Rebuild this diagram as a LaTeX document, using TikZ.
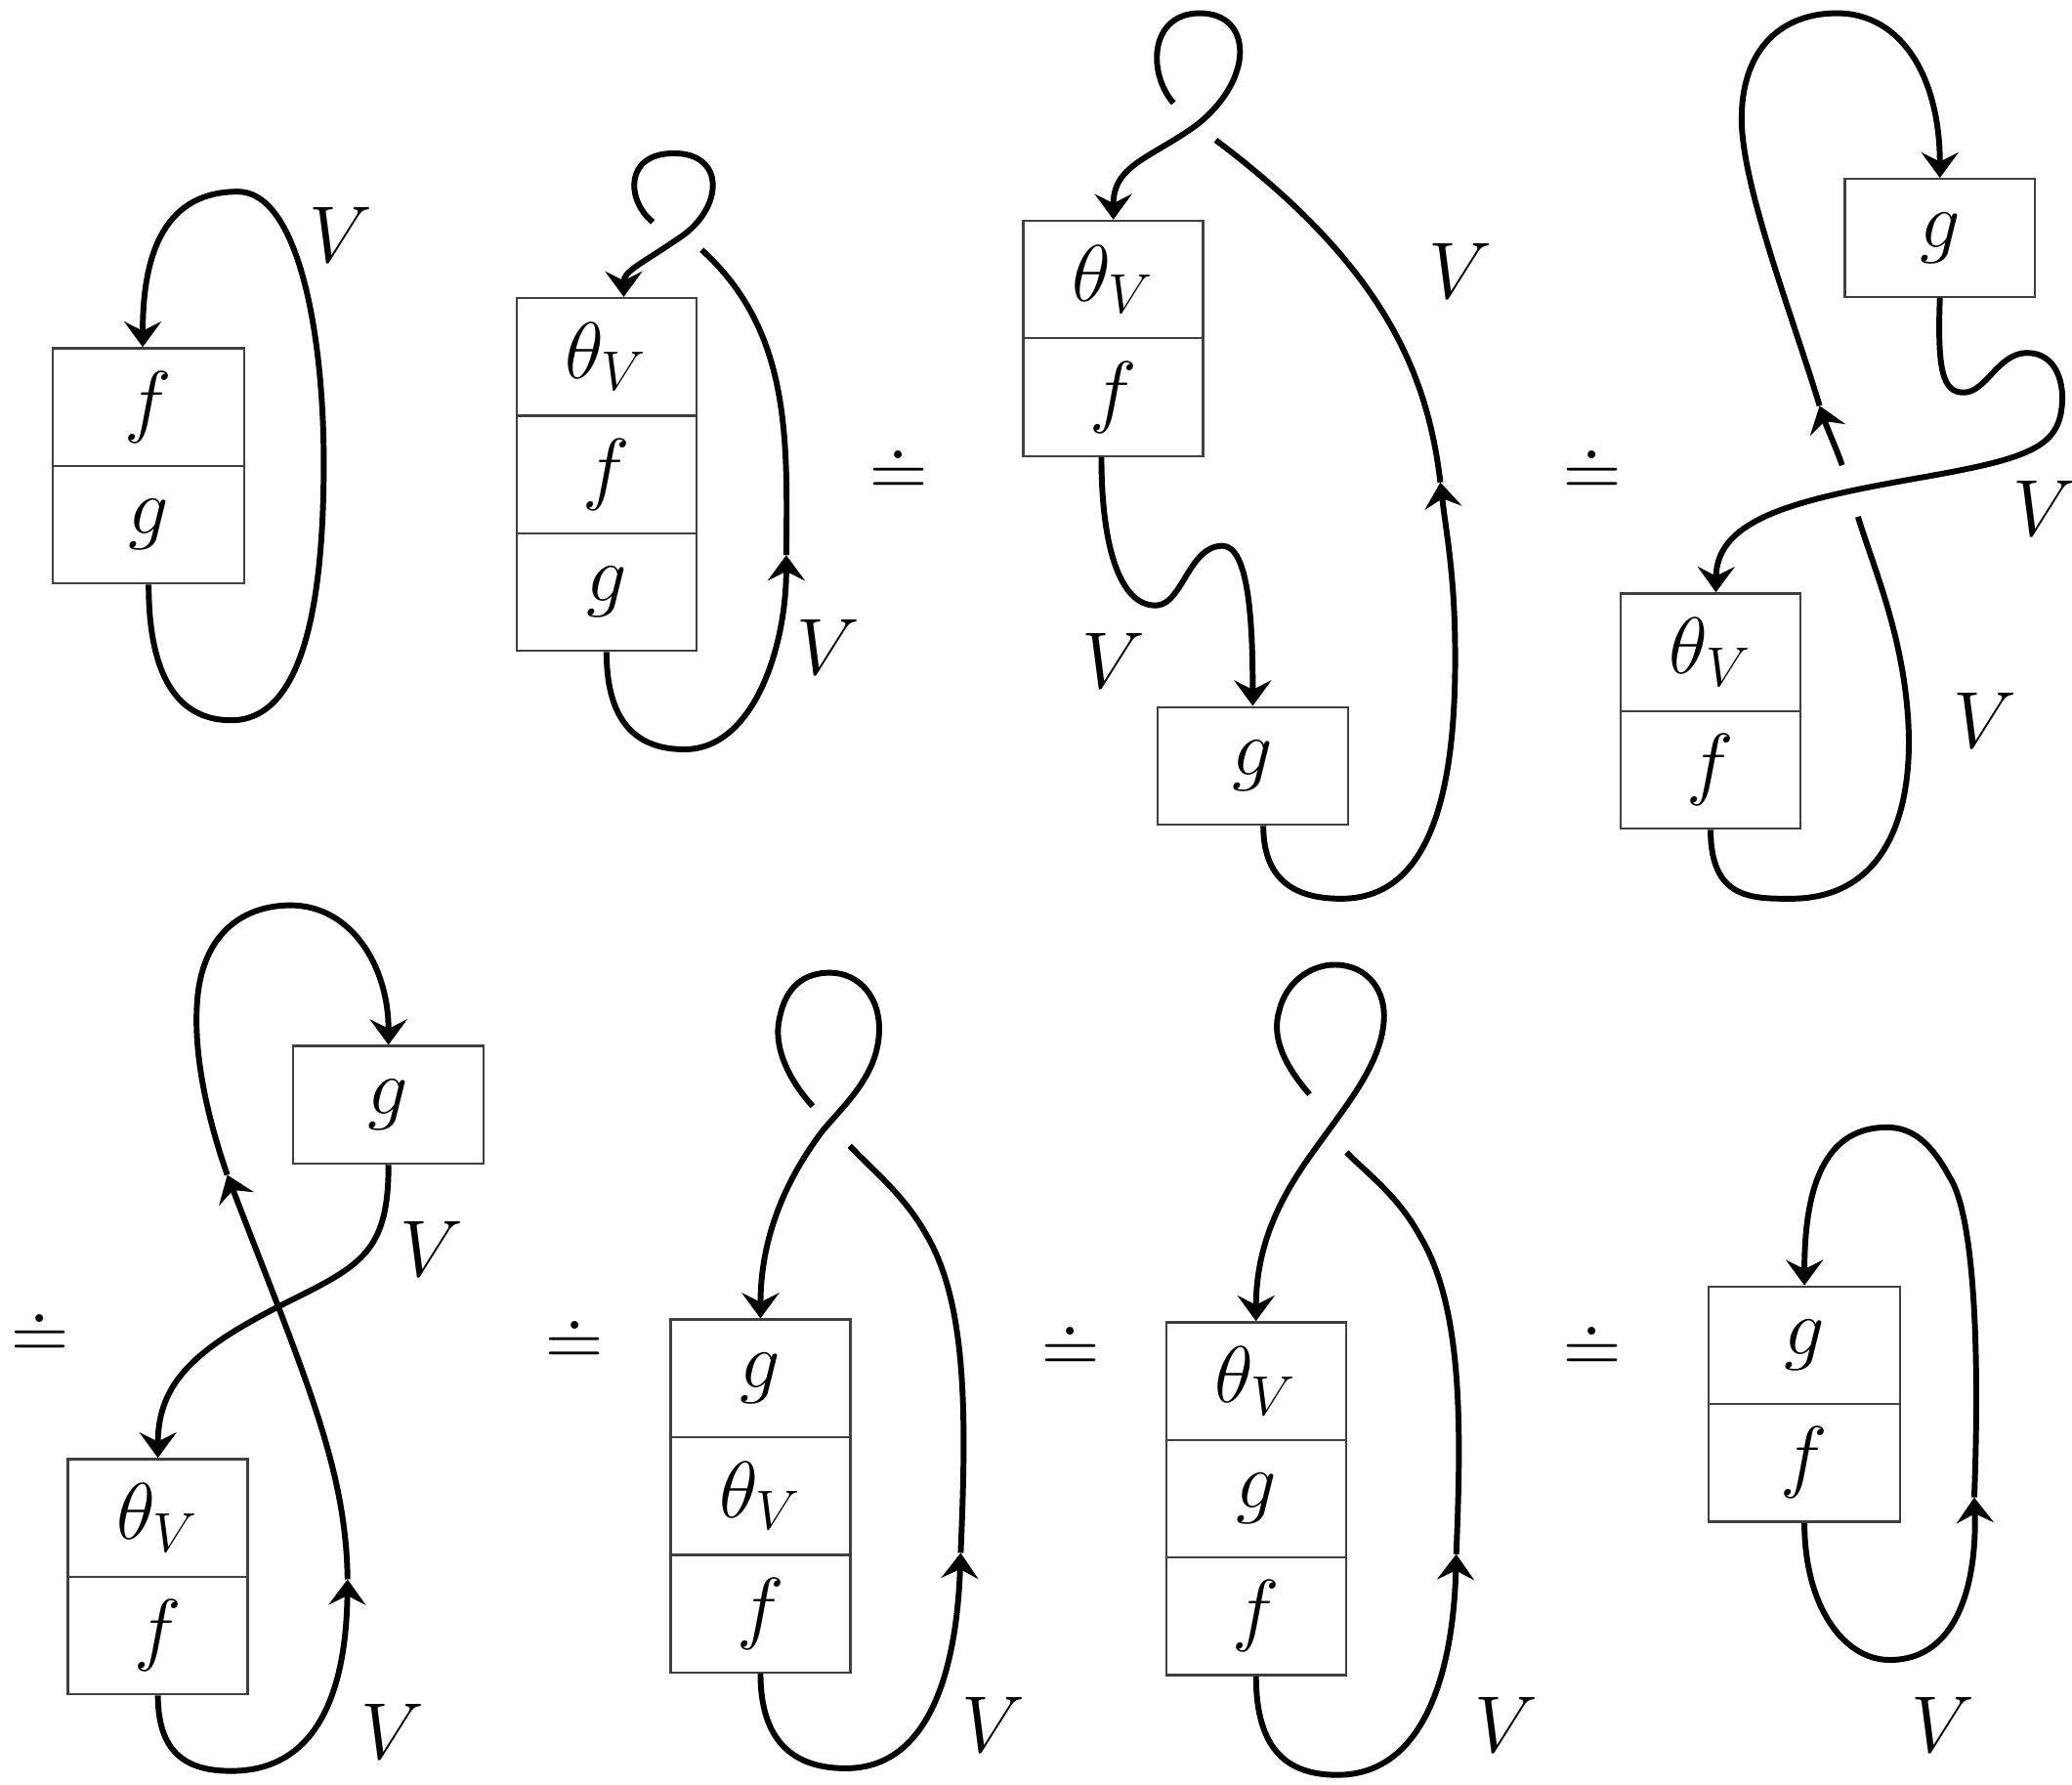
\documentclass[tikz,border=0pt]{standalone}
\usetikzlibrary{arrows.meta}

\begin{document}
\begin{tikzpicture}
    % Define block styles
    \tikzstyle{cell} = [rectangle, draw=black!75, line width=0.5pt,
        minimum width=1.36cm, minimum height=0.89cm, inner sep=0pt, font=\LARGE]
    \tikzstyle{lbl} = [font=\LARGE]
    \tikzstyle{strand} = [draw, line width=1.25pt]
    \tikzstyle{line} = [strand, -{Stealth[length=5.5pt, width=8pt, inset=2pt]}] % strand with direction

    \useasboundingbox (0,0) rectangle (15.68,-13.50);

    % Place nodes
    \node [cell, minimum width=1.45cm] (f1) at (1.125,-3.08) {$f$};
    \node [cell, minimum width=1.45cm, below of=f1, node distance=0.89cm] (g1) {$g$};
    \node [lbl] (v1) at (2.58,-1.78) {$V$};

    \node [cell] (t2) at (4.59,-2.70) {$\theta_V$};
    \node [cell, below of=t2, node distance=0.89cm] (f2) {$f$};
    \node [cell, below of=f2, node distance=0.89cm] (g2) {$g$};
    \node [lbl] (v2) at (6.27,-4.90) {$V$};
    \node [lbl] (eq1) at (6.80,-3.57) {$\doteq$};

    \node [cell] (t3) at (8.425,-2.115) {$\theta_V$};
    \node [cell, below of=t3, node distance=0.89cm] (f3) {$f$};
    \node [cell, minimum width=1.44cm] (g3) at (9.48,-5.795) {$g$};
    \node [lbl] (v3a) at (11.05,-2.05) {$V$};
    \node [lbl] (v3b) at (8.43,-5.00) {$V$};
    \node [lbl] (eq2) at (12.05,-3.57) {$\doteq$};

    \node [cell, minimum width=1.44cm] (g4) at (14.68,-1.80) {$g$};
    \node [cell] (t4) at (12.945,-4.935) {$\theta_V$};
    \node [cell, below of=t4, node distance=0.89cm] (f4) {$f$};
    \node [lbl] (v4a) at (15.47,-3.85) {$V$};
    \node [lbl] (v4b) at (15.02,-5.45) {$V$};

    \node [lbl] (eq3) at (0.30,-10.10) {$\doteq$};
    \node [cell, minimum width=1.44cm] (g5) at (2.94,-8.36) {$g$};
    \node [cell] (t5) at (1.195,-11.485) {$\theta_V$};
    \node [cell, below of=t5, node distance=0.89cm] (f5) {$f$};
    \node [lbl] (v5a) at (3.27,-9.45) {$V$};
    \node [lbl] (v5b) at (2.97,-13.10) {$V$};

    \node [lbl] (eq4) at (4.35,-10.15) {$\doteq$};
    \node [cell] (g6) at (5.755,-10.43) {$g$};
    \node [cell, below of=g6, node distance=0.89cm] (t6) {$\theta_V$};
    \node [cell, below of=t6, node distance=0.89cm] (f6) {$f$};
    \node [lbl] (v6) at (7.52,-13.05) {$V$};

    \node [lbl] (eq5) at (8.10,-10.20) {$\doteq$};
    \node [cell] (t7) at (9.505,-10.45) {$\theta_V$};
    \node [cell, below of=t7, node distance=0.89cm] (g7) {$g$};
    \node [cell, below of=g7, node distance=0.89cm] (f7) {$f$};
    \node [lbl] (v7) at (11.40,-13.05) {$V$};

    \node [lbl] (eq6) at (12.05,-10.20) {$\doteq$};
    \node [cell, minimum width=1.45cm] (g8) at (13.655,-10.18) {$g$};
    \node [cell, minimum width=1.45cm, below of=g8, node distance=0.89cm] (f8) {$f$};
    \node [lbl] (v8) at (14.70,-13.05) {$V$};

    % Crossing ends and arrow points
    \coordinate (u2) at (5.95,-4.20);
    \coordinate (a2) at (5.31,-1.89);
    \coordinate (b2) at (4.94,-1.68);
    \coordinate (u3) at (10.90,-3.65);
    \coordinate (a3) at (9.20,-1.06);
    \coordinate (b3) at (8.88,-0.78);
    \coordinate (c4) at (14.06,-3.91);
    \coordinate (d4) at (13.94,-3.52);
    \coordinate (u4) at (13.77,-3.07);
    \coordinate (u5) at (2.63,-11.95);
    \coordinate (w5) at (1.72,-8.89);
    \coordinate (u6) at (7.27,-11.75);
    \coordinate (a6) at (6.43,-8.67);
    \coordinate (b6) at (6.15,-8.37);
    \coordinate (u7) at (11.02,-11.76);
    \coordinate (a7) at (10.19,-8.72);
    \coordinate (b7) at (9.91,-8.28);
    \coordinate (u8) at (14.94,-11.33);

    % Draw strands
    \path [line] (g1.south) .. controls (1.125,-5.20) and (1.40,-5.45) .. (1.75,-5.45)
        .. controls (2.25,-5.45) and (2.45,-4.70) .. (2.45,-3.50)
        .. controls (2.45,-2.50) and (2.25,-1.45) .. (1.80,-1.45)
        .. controls (1.20,-1.45) and (1.08,-2.00) .. ([xshift=-0.45mm]f1.north);

    \path [line] (g2.south) .. controls (4.59,-5.50) and (4.85,-5.67) .. (5.18,-5.67)
        .. controls (5.70,-5.67) and (5.95,-4.90) .. (u2);
    \path [strand] (u2) .. controls (5.96,-3.30) and (5.98,-2.50) .. (a2);
    \path [line] (b2) .. controls (4.74,-1.52) and (4.72,-1.16) .. (5.10,-1.16)
        .. controls (5.48,-1.16) and (5.48,-1.55) .. (5.17,-1.78)
        .. controls (4.85,-2.00) and (4.72,-2.05) .. ([xshift=1.3mm]t2.north);

    \path [line] ([xshift=-0.9mm]f3.south) .. controls (8.335,-4.20) and (8.50,-4.60) .. (8.76,-4.58)
        .. controls (8.95,-4.56) and (9.00,-4.13) .. (9.25,-4.13)
        .. controls (9.45,-4.13) and (9.48,-4.70) .. (g3.north);
    \path [line] ([xshift=0.8mm]g3.south) .. controls (9.56,-6.70) and (9.85,-6.80) .. (10.15,-6.80)
        .. controls (10.90,-6.80) and (11.03,-5.80) .. (11.01,-4.80)
        .. controls (11.00,-4.30) and (10.94,-4.00) .. (u3);
    \path [strand] (u3) .. controls (10.80,-2.80) and (10.45,-2.00) .. (a3);
    \path [line] (b3) .. controls (8.68,-0.55) and (8.70,-0.10) .. (9.08,-0.10)
        .. controls (9.48,-0.10) and (9.50,-0.60) .. (9.05,-0.95)
        .. controls (8.70,-1.20) and (8.425,-1.25) .. (t3.north);

    \path [line] (g4.south) .. controls (14.66,-2.80) and (14.70,-2.97) .. (14.86,-2.97)
        .. controls (15.03,-2.97) and (15.12,-2.67) .. (15.34,-2.67)
        .. controls (15.56,-2.67) and (15.63,-2.90) .. (15.60,-3.10)
        .. controls (15.56,-3.40) and (15.30,-3.48) .. (14.50,-3.62)
        .. controls (13.60,-3.78) and (12.99,-3.92) .. ([xshift=0.4mm]t4.north);
    \path [strand] (f4.south) .. controls (12.945,-6.80) and (13.25,-6.80) .. (13.55,-6.80)
        .. controls (14.30,-6.80) and (14.48,-6.10) .. (14.44,-5.45)
        .. controls (14.40,-4.80) and (14.18,-4.30) .. (c4);
    \path [line] (d4) .. controls (13.90,-3.40) and (13.83,-3.25) .. (u4);
    \path [line] (u4) .. controls (13.55,-2.35) and (13.18,-1.40) .. (13.18,-0.90)
        .. controls (13.18,-0.35) and (13.50,-0.10) .. (13.90,-0.10)
        .. controls (14.40,-0.10) and (14.68,-0.60) .. (g4.north);

    \path [line] (g5.south) .. controls (2.94,-9.50) and (2.72,-9.58) .. (2.10,-9.89)
        .. controls (1.50,-10.20) and (1.195,-10.45) .. (t5.north);
    \path [line] (f5.south) .. controls (1.195,-13.30) and (1.45,-13.40) .. (1.75,-13.40)
        .. controls (2.40,-13.40) and (2.62,-12.80) .. (u5);
    \path [line] (u5) .. controls (2.62,-11.10) and (2.30,-10.40) .. (w5);
    \path [line] (w5) .. controls (1.55,-8.40) and (1.45,-7.90) .. (1.50,-7.50)
        .. controls (1.56,-7.05) and (1.85,-6.85) .. (2.20,-6.85)
        .. controls (2.65,-6.85) and (2.94,-7.30) .. (g5.north);

    \path [line] (f6.south) .. controls (5.755,-13.22) and (6.05,-13.38) .. (6.40,-13.38)
        .. controls (7.05,-13.38) and (7.24,-12.60) .. (u6);
    \path [strand] (u6) .. controls (7.31,-10.80) and (7.33,-9.90) .. (7.02,-9.36)
        .. controls (6.85,-9.05) and (6.63,-8.88) .. (a6);
    \path [line] (b6) .. controls (5.95,-8.15) and (5.85,-7.90) .. (5.90,-7.70)
        .. controls (5.95,-7.45) and (6.10,-7.36) .. (6.28,-7.36)
        .. controls (6.50,-7.36) and (6.68,-7.55) .. (6.65,-7.85)
        .. controls (6.62,-8.15) and (6.40,-8.35) .. (6.23,-8.55)
        .. controls (6.00,-8.85) and (5.755,-9.30) .. (g6.north);

    \path [line] (f7.south) .. controls (9.505,-13.25) and (9.75,-13.43) .. (10.12,-13.43)
        .. controls (10.80,-13.43) and (11.00,-12.60) .. (u7);
    \path [strand] (u7) .. controls (11.06,-10.80) and (11.07,-9.90) .. (10.75,-9.36)
        .. controls (10.58,-9.05) and (10.37,-8.90) .. (a7);
    \path [line] (b7) .. controls (9.72,-8.06) and (9.62,-7.85) .. (9.68,-7.65)
        .. controls (9.73,-7.43) and (9.92,-7.30) .. (10.10,-7.30)
        .. controls (10.35,-7.30) and (10.50,-7.50) .. (10.47,-7.75)
        .. controls (10.44,-8.05) and (10.20,-8.35) .. (10.02,-8.60)
        .. controls (9.80,-8.90) and (9.505,-9.30) .. (t7.north);

    \path [line] (f8.south) .. controls (13.655,-12.15) and (13.95,-12.56) .. (14.30,-12.56)
        .. controls (14.85,-12.56) and (14.96,-11.90) .. (u8);
    \path [line] (u8) .. controls (14.98,-10.30) and (14.95,-9.20) .. (14.75,-8.90)
        .. controls (14.62,-8.66) and (14.48,-8.53) .. (14.28,-8.53)
        .. controls (13.85,-8.53) and (13.655,-8.90) .. (g8.north);

\end{tikzpicture}
\end{document}
